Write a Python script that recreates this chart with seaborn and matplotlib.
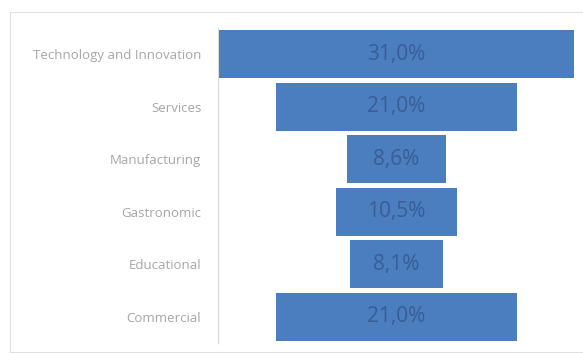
import matplotlib
matplotlib.use("Agg")
import matplotlib.pyplot as plt
import seaborn as sns
import pandas as pd
from matplotlib.patches import Rectangle

categories = ["Technology and Innovation", "Services", "Manufacturing",
              "Gastronomic", "Educational", "Commercial"]
values = [31.0, 21.0, 8.6, 10.5, 8.1, 21.0]
labels = ["31,0%", "21,0%", "8,6%", "10,5%", "8,1%", "21,0%"]

df = pd.DataFrame({"category": categories, "value": values})

sns.set_theme(style="white")
plt.rcParams['font.family'] = ['Open Sans', 'DejaVu Sans']

fig = plt.figure(figsize=(5.83, 3.54), dpi=100)
ax = fig.add_axes([218/583, 1 - 343/354, (575 - 218)/583, (343 - 28)/354])

bar_color = "#4a7ebf"
sns.barplot(data=df, x="value", y="category", color=bar_color, width=0.92,
            saturation=1, ax=ax, orient="h")

# center each bar (funnel style)
for p in ax.patches:
    w = p.get_width()
    p.set_x(-w / 2)
    p.set_linewidth(0)

for p, lab in zip(ax.patches, labels):
    ax.text(0, p.get_y() + p.get_height() / 2, lab, ha="center", va="center",
            fontsize=15, color="#3a5d95")

mx = max(values)
ax.set_xlim(-mx / 2 - 0.1, mx / 2 + 0.1)
ax.set_ylim(len(categories) - 0.5, -0.5)
ax.set_xlabel("")
ax.set_ylabel("")
ax.set_xticks([])
ax.tick_params(axis="y", length=0, pad=12, labelsize=9.5, labelcolor="#a6a6a6")
for s in ["top", "right", "bottom"]:
    ax.spines[s].set_visible(False)
ax.spines["left"].set_color("#d9d9d9")
ax.spines["left"].set_linewidth(0.8)

# outer chart border
fig.patches.append(Rectangle((10/583, 1 - 352/354), 575/583, 340/354,
                             transform=fig.transFigure, fill=False,
                             edgecolor="#e0e0e0", linewidth=0.8))

fig.savefig("out.png", dpi=100)
